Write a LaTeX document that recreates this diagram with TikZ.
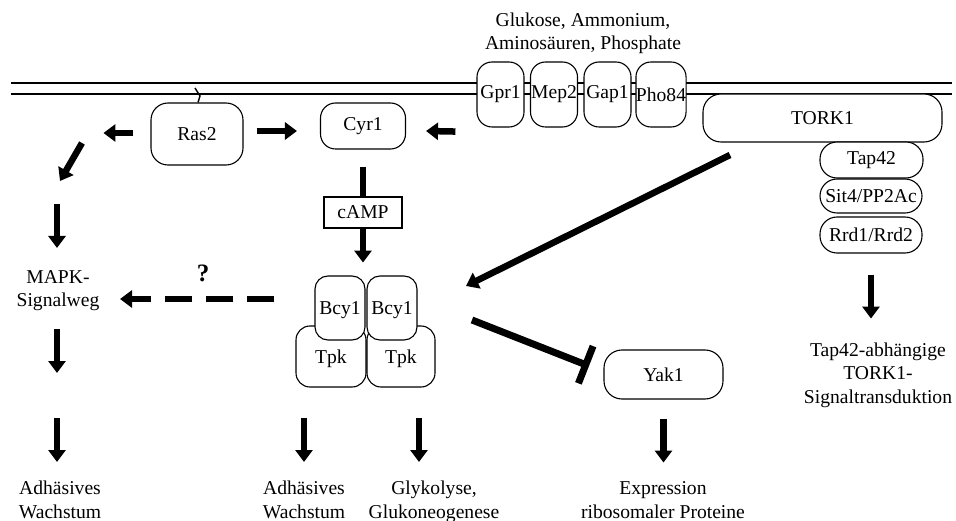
\documentclass[tikz,border=0pt]{standalone}
\usepackage{fontspec}
\setmainfont{Liberation Serif}
\usetikzlibrary{arrows.meta}
\begin{document}
\begin{tikzpicture}[x=1pt,y=-1pt,
  every node/.style={font=\fontsize{19.6}{23.5}\selectfont},
  prot/.style={draw,fill=white,line width=1.1pt,inner sep=0pt,rounded corners=#1},
  prot/.default=14pt,
  rec/.style={prot=15pt,minimum width=47pt,minimum height=65pt},
  capsule/.style={prot=17pt,minimum width=102pt},
  lbl/.style={align=center,anchor=base,inner sep=0pt},
  arr/.style={line width=6.5pt,-{Triangle[width=17pt,length=12pt]}},
  bar/.style={line width=6.5pt},
  block/.style={line width=7pt,-{Bar[width=40pt]}}
]
\useasboundingbox (0,0) rectangle (956,521);

% plasma membrane
\draw[line width=1.1pt] (11,83) -- (952,83);
\draw[line width=1.1pt] (11,94) -- (952,94);

% nutrient receptors in the membrane (label anchored at its last baseline)
\node[lbl] (nutr) at (583,50) {Glukose, Ammonium,\\Aminosäuren, Phosphate};
\node[rec] (gpr1)  at (500.5,94.5) {Gpr1};
\node[rec] (mep2)  at (554,94.5)   {Mep2};
\node[rec] (gap1)  at (607.5,94.5) {Gap1};
\node[rec] (pho84) at (661,94.5)   {Pho84};

% Ras/cAMP/PKA branch
\node[prot=17pt,minimum width=92pt,minimum height=62pt] (ras2) at (197,134) {Ras2};
\draw[line width=1.4pt] (195,88) -- (200,96) -- (198,102.5);
\node[prot=15pt,minimum width=85pt,minimum height=46pt] (cyr1) at (363,126) {Cyr1};
\node[draw,fill=white,line width=1.1pt,inner sep=0pt,minimum width=78pt,minimum height=31pt] (camp) at (363,212.5) {cAMP};

\node[prot=14pt,minimum width=70pt,minimum height=61pt,text depth=-2pt] (tpka) at (331,356.5) {Tpk};
\node[prot=14pt,minimum width=68pt,minimum height=61pt,text depth=-2pt] (tpkb) at (401,356.5) {Tpk};
\node[prot=13pt,minimum width=50pt,minimum height=64pt,text depth=-2pt] (bcya) at (340,308) {Bcy1};
\node[prot=13pt,minimum width=50pt,minimum height=64pt,text depth=-2pt] (bcyb) at (392,308) {Bcy1};

% TORK1 complex
\node[prot=18pt,minimum width=239pt,minimum height=48pt] (tork1) at (822.5,118) {TORK1};
\node[capsule,minimum width=103pt,minimum height=36pt] (tap42) at (871.5,160) {Tap42};
\node[capsule,minimum height=34pt] (sit4) at (871,196) {Sit4/PP2Ac};
\node[capsule,minimum height=36pt] (rrd) at (871,235) {Rrd1/Rrd2};

\node[prot=18pt,minimum width=119pt,minimum height=49pt] (yak1) at (663.5,374.5) {Yak1};

% read-outs (anchored at their last baseline)
\node[lbl] (mapk) at (58,307) {MAPK-\\Signalweg};
\node[lbl] (adh1) at (60,518) {Adhäsives\\Wachstum};
\node[lbl] (adh2) at (304,518) {Adhäsives\\Wachstum};
\node[lbl] (glyk) at (434,518) {Glykolyse,\\Glukoneogenese};
\node[lbl] (expr) at (663,518) {Expression\\ribosomaler Proteine};
\node[lbl] (tapt) at (878,403) {Tap42-abhängige\\TORK1-\\Signaltransduktion};
\node[font=\fontsize{25}{28}\selectfont\bfseries] (q) at (203,273) {?};

% free ends of the signalling arrows
\coordinate (m1) at (82,143);
\coordinate (m2) at (60,181);
\coordinate (m3) at (57,204);
\coordinate (m4) at (57,248);
\coordinate (tS) at (730,155);
\coordinate (tE) at (466,286);
\coordinate (iS) at (472,320);
\coordinate (iE) at (589,366);

% Ras2 branch towards MAPK
\draw[arr] ([shift={(-17,-1)}]ras2.west) -- ++(-30,0);
\draw[arr] (m1) -- (m2);
\draw[arr] (m3) -- (m4);
\draw[arr] (57,329) -- (57,373);
\draw[arr] (57,418) -- (57,462);

% Ras2 / receptors to Cyr1
\draw[arr] ([shift={(13,-3)}]ras2.east) -- ([shift={(-23,5)}]cyr1.west);
\draw[arr] ([shift={(-21,4)}]gpr1.south west) -- ([shift={(20,5)}]cyr1.east);

% cAMP to PKA
\draw[bar] ([yshift=-17pt]cyr1.south) -- (camp.north);
\draw[arr] (camp.south) -- ++(0,34);

% PKA to MAPK (uncertain)
\draw[arr,dash pattern=on 27pt off 14pt] ([xshift=-21pt]tpka.west |- 0,299) -- (120,299);

% PKA outputs
\draw[arr] (304,418) -- (304,462);
\draw[arr] (419,418) -- (419,462);

% TORK1 to PKA, PKA inhibits Yak1
\draw[arr] (tS) -- (tE);
\draw[block] (iS) -- (iE);
\draw[arr] ([yshift=-19pt]yak1.south) -- ++(0,44);

% Tap42 branch
\draw[arr] ([yshift=-21pt]rrd.south) -- ++(0,44);
\end{tikzpicture}
\end{document}
